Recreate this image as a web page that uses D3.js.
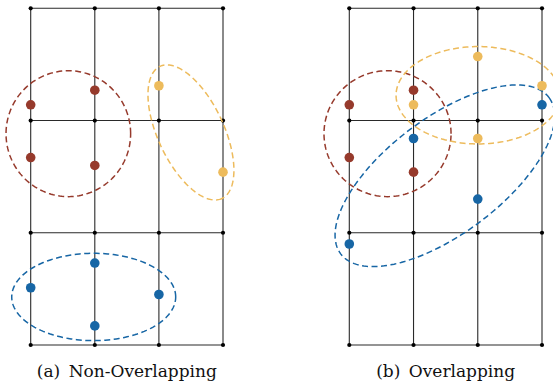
<!DOCTYPE html>
<html>
<head>
<meta charset="utf-8">
<script src="https://cdn.jsdelivr.net/npm/d3@7"></script>
<style>
  html, body { margin: 0; padding: 0; background: #fff; }
  svg { display: block; }
</style>
</head>
<body>
<svg id="chart" width="553" height="382"></svg>
<script>
// Grid lattice (columns x rows of nodes)
const gridCols = [0, 1, 2, 3];
const gridRows = [0, 1, 2, 3];

const captions = ["(a)\u2002Non-Overlapping", "(b)\u2002Overlapping"];

// Panel (a): clustered points
const redA    = [[0, 2.14], [1, 2.27], [0, 1.67], [1, 1.60]];
const yellowA = [[2, 2.31], [3, 1.54]];
const blueA   = [[0, 0.51], [1, 0.73], [2, 0.45], [1, 0.17]];

// Panel (b): clustered points
const redB    = [[0, 2.14], [1, 2.27], [0, 1.67], [1, 1.54]];
const yellowB = [[1, 2.14], [2, 2.57], [2, 1.84], [3, 2.31]];
const blueB   = [[0, 0.90], [1, 1.84], [2, 1.30], [3, 2.14]];

// Cluster outlines: centre and two conjugate semi-diameters, in grid units
const ellipsesA = [
  { cls: "red",    c: [0.587, 1.883], u: [0.972, 0],      v: [0, 0.561] },
  { cls: "yellow", c: [2.50, 1.894],  u: [0.482, -0.589], v: [-0.466, -0.125] },
  { cls: "blue",   c: [0.983, 0.428], u: [1.279, 0],      v: [0, 0.389] }
];
const ellipsesB = [
  { cls: "red",    c: [0.595, 1.883], u: [0.989, 0],      v: [0, 0.561] },
  { cls: "yellow", c: [2.005, 2.225], u: [1.277, 0],      v: [0, 0.434] },
  { cls: "blue",   c: [1.488, 1.508], u: [1.622, 0.696],  v: [0.541, -0.413] }
];

const colors = { red: "#963a2c", yellow: "#edbb5c", blue: "#1766a5" };

const svg = d3.select("#chart");
const y = d3.scaleLinear().domain([0, 3]).range([345, 8.3]);

const panels = [
  { x: d3.scaleLinear().domain([0, 3]).range([30.7, 223]),
    clusters: { red: redA, yellow: yellowA, blue: blueA },
    ellipses: ellipsesA, caption: captions[0] },
  { x: d3.scaleLinear().domain([0, 3]).range([349.3, 542]),
    clusters: { red: redB, yellow: yellowB, blue: blueB },
    ellipses: ellipsesB, caption: captions[1] }
];

const line = d3.line();

panels.forEach(p => {
  const g = svg.append("g");
  const x = p.x;

  // grid lines
  gridCols.forEach(c => {
    g.append("line")
      .attr("x1", x(c)).attr("x2", x(c))
      .attr("y1", y(gridRows[0])).attr("y2", y(gridRows[gridRows.length - 1]))
      .attr("stroke", "#2a2a2a").attr("stroke-width", 1.1);
  });
  gridRows.forEach(r => {
    g.append("line")
      .attr("y1", y(r)).attr("y2", y(r))
      .attr("x1", x(gridCols[0])).attr("x2", x(gridCols[gridCols.length - 1]))
      .attr("stroke", "#2a2a2a").attr("stroke-width", 1.1);
  });

  // lattice nodes
  const nodes = d3.cross(gridCols, gridRows);
  g.selectAll("circle.node").data(nodes).enter().append("circle")
    .attr("class", "node")
    .attr("cx", d => x(d[0])).attr("cy", d => y(d[1]))
    .attr("r", 2.1).attr("fill", "#000");

  // dashed cluster outlines
  p.ellipses.forEach(e => {
    const pts = d3.range(0, 361, 2).map(deg => {
      const t = deg * Math.PI / 180;
      const gx = e.c[0] + e.u[0] * Math.cos(t) + e.v[0] * Math.sin(t);
      const gy = e.c[1] + e.u[1] * Math.cos(t) + e.v[1] * Math.sin(t);
      return [x(gx), y(gy)];
    });
    g.append("path")
      .attr("d", line(pts) + "Z")
      .attr("fill", "none")
      .attr("stroke", colors[e.cls])
      .attr("stroke-width", 1.5)
      .attr("stroke-dasharray", "6,3.5");
  });

  // cluster points
  Object.entries(p.clusters).forEach(([cls, pts]) => {
    g.selectAll("circle." + cls).data(pts).enter().append("circle")
      .attr("class", cls)
      .attr("cx", d => x(d[0])).attr("cy", d => y(d[1]))
      .attr("r", 4.8).attr("fill", colors[cls]);
  });

  // caption
  g.append("text")
    .attr("x", (x(0) + x(3)) / 2)
    .attr("y", 376.5)
    .attr("text-anchor", "middle")
    .attr("font-family", "'DejaVu Serif', serif")
    .attr("font-size", 17)
    .attr("fill", "#111")
    .text(p.caption);
});
</script>
</body>
</html>
